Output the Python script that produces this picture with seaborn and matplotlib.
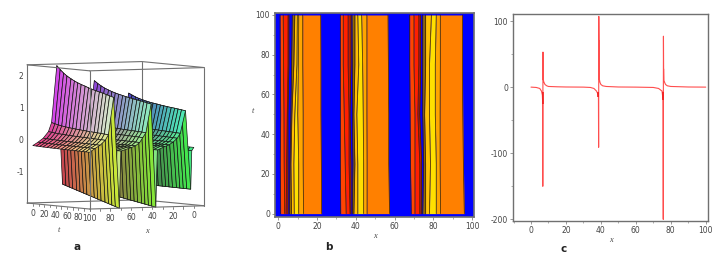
import numpy as np
import matplotlib
matplotlib.use('Agg')
import matplotlib.pyplot as plt
from mpl_toolkits.mplot3d import proj3d
import seaborn as sns

# panel a: surface profile along x, read at t=0 and t=100
surf_x = [0, 2, 3, 8, 13, 16, 20, 24, 28, 35, 36.5, 41, 46, 49, 52, 56, 60, 70, 71.5, 77, 82, 85, 90, 95, 100]
surf_t0 = [-0.1, -0.2, -1.38, 1.43, 0.5, 0.3, 0.12, 0, -0.05, -0.15, -1.6, 1.85, 0.55, 0.35, 0.15, 0, -0.05, -0.15, -1.35, 2.35, 0.58, 0.3, 0.1, -0.02, -0.12]
surf_t100 = [-0.1, -0.2, -1.4, 1.05, 0.35, 0.2, 0.08, 0, -0.05, -0.15, -1.93, 1.29, 0.4, 0.25, 0.1, 0, -0.05, -0.15, -1.93, 1.53, 0.37, 0.2, 0.05, -0.05, -0.16]
surf_t = [0, 6, 12, 18, 25, 31, 37, 43, 50, 56, 62, 68, 75, 81, 87, 93, 100]
surf_weight = [0, .14, .26, .36, .45, .52, .58, .63, .68, .73, .77, .81, .85, .88, .92, .96, 1]
a_ticks = [0, 20, 40, 60, 80, 100]
a_zticks = [-1, 0, 1, 2]

# panel b: colour band edges at each y row
band_y = [0, 25, 50, 75, 100]
band_edges = [
    [1.2, 3.3, 4, 5, 5.7, 6.8, 8.2, 10.5, 13, 22.4, 32.2, 35, 37, 37.5, 38.2, 39, 41, 44, 45.8, 57.4, 68.6, 70.5, 73, 73.8, 74.5, 76, 78, 81.5, 83.7, 96],
    [1, 3, 4.3, 5, 6, 6.5, 8, 10.5, 12.8, 22.2, 32, 34.5, 36.5, 37.5, 38.5, 39.5, 41, 44, 45.8, 57, 68.2, 70.5, 73, 74, 75, 76, 78.5, 81.5, 83.5, 95.5],
    [1.2, 2.9, 4.6, 5, 6.5, 7, 8.5, 10, 12.8, 22, 32, 34, 36.5, 37, 38.3, 39, 40.5, 43.8, 45.7, 57, 68, 70.5, 72, 73, 74.5, 75.5, 78, 81, 83.5, 95.2],
    [1, 2.7, 5, 5.5, 6.8, 8, 9.6, 10.3, 12.6, 22, 32, 33.5, 36, 37.5, 38.2, 39.5, 41.5, 43.5, 45.7, 56.8, 67.8, 70, 72.5, 73.5, 74.5, 76, 78, 81, 83.6, 95],
    [0.9, 2.5, 5, 5.5, 7.2, 8.5, 9.8, 10.5, 12.6, 21.9, 32, 33.5, 36, 37.5, 38, 39.5, 41, 43, 45.7, 56.6, 67.8, 70, 72.5, 73.5, 74.5, 76, 79, 81.5, 83.6, 95],
]
band_colors = ['#ff4500', '#ff2000', '#b82000', '#0000ff', '#8f6a00', '#ffc000', '#ffe000', '#ffa500', '#ff8000', '#0000ff'] * 3

# panel c: cross section at fixed t
line_x = [0, 3, 5, 6, 6.5, 6.7, 6.75, 6.8, 6.85, 6.9, 7.0, 7.3, 8, 9, 10, 15, 20, 30,
          34, 36, 37.5, 38.2, 38.6, 38.7, 38.75, 38.8, 38.9, 39, 39.1, 39.5, 40, 41, 43, 50, 60,
          70, 73, 75, 75.6, 75.7, 75.75, 75.8, 75.9, 76, 76.1, 76.5, 77, 78, 80, 90, 100]
line_y = [0, -0.5, -2, -6, -12, -25, -150, -25, 53, 12, 12, 8, 4, 2, 1, 0.5, 0.2, 0,
          -0.5, -2, -6, -10, -15, -91, -15, 107, 70, 70, 12, 7, 4, 2, 1, 0.2, 0,
          -0.5, -2, -6, -20, -200, -20, 77, 27, 27, 10, 7, 4, 2, 1, 0.2, 0]
core_x = [6.7, 38.6, 75.6]
core_low = [-25, -15, -20]
core_high = [-8, -8, -8]
c_xticks = [0, 20, 40, 60, 80, 100]
c_yticks = [-200, -100, 0, 100]

W, H = 725, 258
GREY = '#707070'
TXT = '#444444'


def px_axes(fig, left, top, right, bottom, **kw):
    return fig.add_axes([left / W, 1 - bottom / H, (right - left) / W, (bottom - top) / H], **kw)


def plot_surface(fig):
    ax = px_axes(fig, 13, 38, 213, 238, projection='3d')
    ax.set_proj_type('ortho')
    ax.computed_zorder = False
    ax.view_init(elev=3, azim=61.4)
    ax.set_box_aspect((1, 1, 1.06), zoom=1.12)
    xlo, xhi, tlo, thi, zlo, zhi = -10, 100, -10, 100, -1.93, 2.38
    ax.set_xlim(xlo, xhi)
    ax.set_ylim(tlo, thi)
    ax.set_zlim(zlo, zhi)
    ax.set_xticks([])
    ax.set_yticks([])
    ax.set_zticks([])
    ax.set_axis_off()
    ax.patch.set_alpha(0)

    X, T = np.meshgrid(surf_x, surf_t)
    w = np.array(surf_weight)[:, None]
    p0 = np.array(surf_t0)
    p100 = np.array(surf_t100)
    Z = p0 * (1 - w) + p100 * w
    # troughs run straight along t
    w_line = np.array(surf_t)[:, None] / 100
    Z = np.where(p0 < -1, p0 * (1 - w_line) + p100 * w_line, Z)

    colors = np.stack([0.25 + 0.75 * X / 100, 0.28 + 0.67 * T / 100,
                       0.22 + 0.7 * (Z + 1.93) / 4.31, np.ones_like(Z)], axis=-1)
    colors = np.clip(colors, 0, 1)

    def edge(p, q, z):
        ax.plot(*zip(p, q), color=GREY, lw=0.8, zorder=z)

    # back edges, behind the surface
    edge((xlo, tlo, zlo), (xhi, tlo, zlo), 1)
    edge((xlo, tlo, zlo), (xlo, thi, zlo), 1)
    edge((xlo, tlo, zlo), (xlo, tlo, zhi), 1)

    ax.plot_surface(X, T, Z, facecolors=colors, rstride=1, cstride=1, shade=False,
                    edgecolor='#151515', linewidth=0.5, zorder=2)

    # remaining box
    edge((xlo, tlo, zhi), (xhi, tlo, zhi), 1)
    edge((xlo, tlo, zhi), (xlo, thi, zhi), 1)
    edge((xhi, tlo, zhi), (xhi, thi, zhi), 3)
    edge((xlo, thi, zhi), (xhi, thi, zhi), 3)
    edge((xhi, thi, zlo), (xhi, thi, zhi), 3)
    edge((xhi, tlo, zlo), (xhi, tlo, zhi), 3)
    edge((xlo, thi, zlo), (xlo, thi, zhi), 3)
    edge((xhi, tlo, zlo), (xhi, thi, zlo), 3)
    edge((xlo, thi, zlo), (xhi, thi, zlo), 3)

    # hand placed ticks, since the 3d axes want to sit elsewhere
    for v in range(0, 101, 10):
        ax.plot([xhi, xhi], [v, v], [zlo, zlo - 0.07], color=GREY, lw=0.6, zorder=3, clip_on=False)
        ax.plot([v, v], [thi, thi], [zlo, zlo - 0.07], color=GREY, lw=0.6, zorder=3, clip_on=False)

    # labels go on the figure, at the projected spot
    fig.canvas.draw()

    def label3d(x, y, z, s, **kw):
        sx, sy, _ = proj3d.proj_transform(x, y, z, ax.get_proj())
        px, py = ax.transData.transform((sx, sy))
        fig.text(px / W, py / H, s, color=TXT, va='center', **kw)

    for v in a_ticks:
        label3d(xhi, v, zlo - 0.3, str(v), fontsize=5.5, ha='center')
        if v != 100:
            label3d(v, thi, zlo - 0.3, str(v), fontsize=5.5, ha='center')
    for v in a_zticks:
        label3d(xhi, tlo - 6, v, str(v), fontsize=5.5, ha='right')
    label3d(xhi, 45, zlo - 0.75, 't', fontsize=6, style='italic', family='Liberation Serif', ha='center')
    label3d(45, thi, zlo - 0.75, 'x', fontsize=6, style='italic', family='Liberation Serif', ha='center')


def style_frame(ax, lw=1.0):
    for s in ax.spines.values():
        s.set_color(GREY)
        s.set_linewidth(lw)
        s.set_visible(True)
    ax.tick_params(which='major', length=2, width=0.5, color=GREY, labelsize=5.5, labelcolor=TXT, pad=1.5,
                   bottom=True, left=True)
    ax.tick_params(which='minor', length=1.2, width=0.4, color=GREY, bottom=True, left=True)


def plot_bands(fig):
    ax = px_axes(fig, 275, 13, 474, 217)
    edges = np.array(band_edges)
    ax.set_facecolor('#0000ff')
    for i, col in enumerate(band_colors[:edges.shape[1] - 1]):
        ax.fill_betweenx(band_y, edges[:, i], edges[:, i + 1], color=col, lw=0)
    for i in range(edges.shape[1]):
        ax.plot(edges[:, i], band_y, color='#3a2000', lw=0.5)
    ax.set_xlim(-1.7, 101)
    ax.set_ylim(-1.7, 101)
    ax.set_xticks(c_xticks)
    ax.set_yticks(c_xticks)
    ax.set_xticks(range(10, 100, 20), minor=True)
    ax.set_yticks(range(10, 100, 20), minor=True)
    style_frame(ax, 1.2)
    ax.set_xlabel('x', fontsize=6, style='italic', family='Liberation Serif', color=TXT, labelpad=0.5)
    ax.set_ylabel('t', fontsize=6, style='italic', family='Liberation Serif', color=TXT, labelpad=2, rotation=0)


def plot_section(fig):
    ax = px_axes(fig, 513, 14, 708, 221)
    sns.lineplot(x=line_x, y=line_y, color='#ff4d4d', lw=0.8, estimator=None, sort=False, ax=ax)
    ax.vlines(core_x, core_low, core_high, color='#f01818', lw=1.1)
    ax.set_xlim(-10.3, 101.3)
    ax.set_ylim(-202.5, 110.6)
    ax.set_xticks(c_xticks)
    ax.set_yticks(c_yticks)
    ax.set_xticks([-10] + list(range(10, 100, 20)), minor=True)
    ax.set_yticks([-150, -50, 50], minor=True)
    style_frame(ax, 1.0)
    ax.set_xlabel('x', fontsize=6, style='italic', family='Liberation Serif', color=TXT, labelpad=0.5)


def main():
    sns.set_theme(style='white')
    plt.rcParams['font.family'] = ['DejaVu Sans']
    plt.rcParams['axes.unicode_minus'] = False
    fig = plt.figure(figsize=(W / 100, H / 100), dpi=100)
    plot_surface(fig)
    plot_bands(fig)
    plot_section(fig)
    for lab, px, py in [('a', 77, 247), ('b', 329, 247), ('c', 564, 249)]:
        fig.text(px / W, 1 - py / H, lab, fontsize=7.5, fontweight='bold', ha='center', va='center', color='#222222')
    fig.savefig('out.png', dpi=100)


if __name__ == "__main__":
    main()
